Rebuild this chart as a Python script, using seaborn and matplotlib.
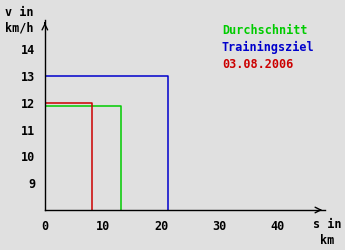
import matplotlib
matplotlib.use("Agg")
import matplotlib.pyplot as plt
import seaborn as sns
import pandas as pd

series = ["Durchschnitt", "Trainingsziel", "03.08.2006"]
distances = [13.1, 21.1, 8.1]
speeds = [11.9, 13.0, 12.0]
colors = ["#00cc00", "#0000cc", "#cc0000"]
x_ticks = [0, 10, 20, 30, 40]
y_ticks = [9, 10, 11, 12, 13, 14]
y_min = 8

sns.set_style("white")
plt.rcParams['font.family'] = ['DejaVu Sans Mono', 'DejaVu Sans']
plt.rcParams['font.weight'] = 'bold'
plt.rcParams['text.color'] = 'black'
plt.rcParams['xtick.color'] = 'black'
plt.rcParams['ytick.color'] = 'black'

bg = "#e0e0e0"
fig = plt.figure(figsize=(3.45, 2.5), dpi=100, facecolor=bg)
ax = fig.add_axes([0.130, 0.16, 0.812, 0.76])
ax.set_facecolor(bg)

rows = []
for name, s, v in zip(series, distances, speeds):
    rows += [dict(series=name, order=0, s=0, v=v),
             dict(series=name, order=1, s=s, v=v),
             dict(series=name, order=2, s=s, v=y_min)]
df = pd.DataFrame(rows)
sns.lineplot(data=df, x="s", y="v", hue="series", units="series", estimator=None,
             sort=False, palette=dict(zip(series, colors)), linewidth=1.1,
             legend=False, ax=ax)

ax.set_xlim(0, 48.1)
ax.set_ylim(y_min, 15.1)
ax.set_xticks(x_ticks)
ax.set_yticks(y_ticks)
ax.set_xlabel("")
ax.set_ylabel("")
for sp in ["top", "right"]:
    ax.spines[sp].set_visible(False)
for sp in ["left", "bottom"]:
    ax.spines[sp].set_color("black")
    ax.spines[sp].set_linewidth(1.0)
ax.tick_params(axis="both", direction="out", length=4, width=1, color="black",
               labelcolor="black", labelsize=8.5, pad=3)
for lab in ax.get_xticklabels() + ax.get_yticklabels():
    lab.set_fontweight("bold")

# axis arrows
ax.annotate("", xy=(1.0, 0), xycoords="axes fraction", xytext=(0.97, 0),
            arrowprops=dict(arrowstyle="->", color="black", lw=1.0, mutation_scale=10))
ax.annotate("", xy=(0, 1.0), xycoords="axes fraction", xytext=(0, 0.97),
            arrowprops=dict(arrowstyle="->", color="black", lw=1.0, mutation_scale=10))

fig.text(0.015, 0.978, "v in\nkm/h", ha="left", va="top", fontsize=8.5,
         fontweight="bold", linespacing=1.3, color="black")
fig.text(0.99, 0.128, "s in\nkm ", ha="right", va="top", fontsize=8.5,
         fontweight="bold", linespacing=1.35, color="black")

for i, (name, c) in enumerate(zip(series, colors)):
    fig.text(0.643, 0.88 - i * 0.07, name, color=c, fontsize=8.5,
             fontweight="bold", ha="left", va="center")

fig.savefig("out.png", dpi=100, facecolor=bg)
